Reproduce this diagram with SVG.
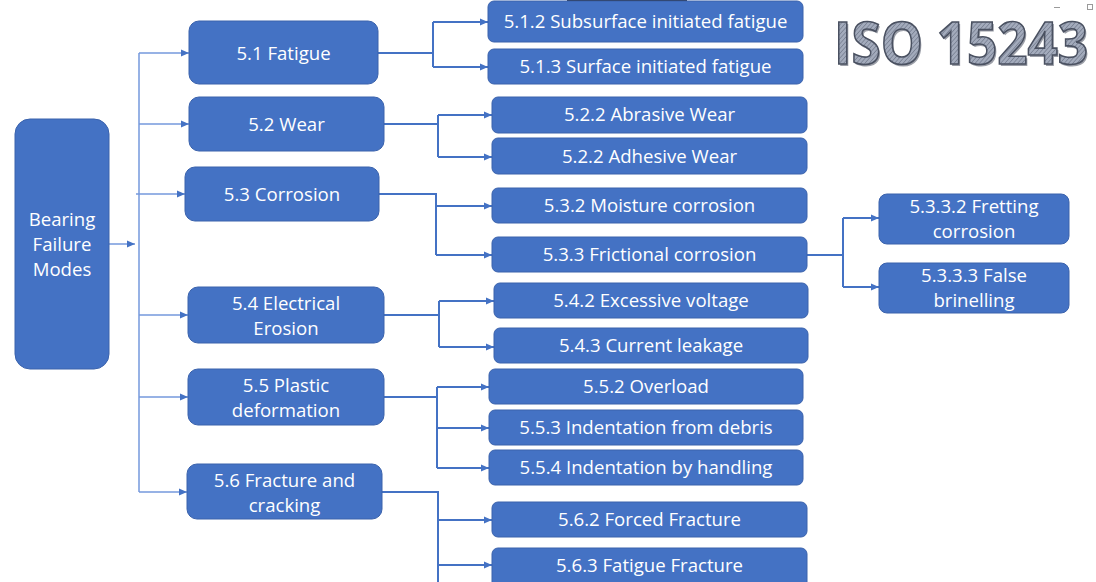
<svg xmlns="http://www.w3.org/2000/svg" width="1096" height="582" viewBox="0 0 1096 582">
<style>
.box{fill:#4472C4;stroke:#3A62AC;stroke-width:1}
.t{font-family:"Open Sans","Noto Sans","Liberation Sans",sans-serif;font-size:18.6px;fill:#ffffff;text-anchor:middle}
.spine{fill:none;stroke:#7499DD;stroke-width:1.5}
.conn{fill:none;stroke:#4472C4;stroke-width:2}
.iso{font-family:"Open Sans","Liberation Sans",sans-serif;font-weight:700;font-size:53px}
</style>
<defs>
<marker id="ah" viewBox="0 0 8 8" refX="8" refY="4" markerWidth="8" markerHeight="8" markerUnits="userSpaceOnUse" orient="auto">
<path d="M0,0.5 L8,4 L0,7.5 Z" fill="#4472C4"/>
</marker>
<pattern id="hatch" width="3" height="3" patternUnits="userSpaceOnUse" patternTransform="rotate(45)">
<rect width="3" height="3" fill="#A3ABBC"/>
<line x1="0" y1="0" x2="0" y2="3" stroke="#6E7689" stroke-width="1.2"/>
</pattern>
</defs>
<rect width="1096" height="582" fill="#ffffff"/>
<rect x="567" y="0" width="120" height="2" fill="#2a2f3a"/>
<line x1="1054" y1="7.5" x2="1060" y2="7.5" stroke="#9a9a9a" stroke-width="1"/>
<rect x="1087.5" y="4.5" width="5" height="5" fill="none" stroke="#9a9a9a" stroke-width="1"/>

<g id="connectors">
<line class="spine" x1="109" y1="244" x2="135" y2="244" marker-end="url(#ah)"/>
<path class="spine" d="M139,492 V53"/>
<line class="spine" x1="139" y1="53" x2="189" y2="53" marker-end="url(#ah)"/>
<line class="spine" x1="139" y1="124" x2="189" y2="124" marker-end="url(#ah)"/>
<line class="spine" x1="136" y1="194" x2="185" y2="194" marker-end="url(#ah)"/>
<line class="spine" x1="139" y1="315" x2="188" y2="315" marker-end="url(#ah)"/>
<line class="spine" x1="139" y1="397" x2="188" y2="397" marker-end="url(#ah)"/>
<line class="spine" x1="139" y1="492" x2="187" y2="492" marker-end="url(#ah)"/>

<path class="conn" d="M378,53 H433"/>
<path class="conn" d="M433,22 V67"/>
<path class="conn" d="M433,22 H488" marker-end="url(#ah)"/>
<path class="conn" d="M433,67 H488" marker-end="url(#ah)"/>

<path class="conn" d="M384,124 H438"/>
<path class="conn" d="M438,115 V157"/>
<path class="conn" d="M438,115 H492" marker-end="url(#ah)"/>
<path class="conn" d="M438,157 H492" marker-end="url(#ah)"/>

<path class="conn" d="M379,194 H436 V255"/>
<path class="conn" d="M436,206 H492" marker-end="url(#ah)"/>
<path class="conn" d="M436,255 H492" marker-end="url(#ah)"/>

<path class="conn" d="M807,255 H843"/>
<path class="conn" d="M843,218 V287"/>
<path class="conn" d="M843,218 H879" marker-end="url(#ah)"/>
<path class="conn" d="M843,287 H879" marker-end="url(#ah)"/>

<path class="conn" d="M384,315 H439"/>
<path class="conn" d="M439,301 V347"/>
<path class="conn" d="M439,301 H494" marker-end="url(#ah)"/>
<path class="conn" d="M439,347 H494" marker-end="url(#ah)"/>

<path class="conn" d="M384,397 H437"/>
<path class="conn" d="M437,387 V468"/>
<path class="conn" d="M437,387 H489" marker-end="url(#ah)"/>
<path class="conn" d="M437,428 H489" marker-end="url(#ah)"/>
<path class="conn" d="M437,468 H489" marker-end="url(#ah)"/>

<path class="conn" d="M382,492 H438 V582"/>
<path class="conn" d="M438,520 H492" marker-end="url(#ah)"/>
<path class="conn" d="M438,565 H492" marker-end="url(#ah)"/>
</g>

<g id="root">
<rect class="box" x="15" y="119" width="94" height="250" rx="15"/>
<text class="t" x="62" y="226">Bearing</text>
<text class="t" x="62" y="251">Failure</text>
<text class="t" x="62" y="276">Modes</text>
</g>

<g id="n51"><rect class="box" x="189" y="21" width="189" height="63" rx="10"/><text class="t" x="283.5" y="60">5.1 Fatigue</text></g>
<g id="n52"><rect class="box" x="189" y="97" width="195" height="54" rx="10"/><text class="t" x="286.5" y="131">5.2 Wear</text></g>
<g id="n53"><rect class="box" x="185" y="167" width="194" height="54" rx="10"/><text class="t" x="282" y="201">5.3 Corrosion</text></g>
<g id="n54"><rect class="box" x="188" y="287" width="196" height="56" rx="10"/><text class="t" x="286" y="310">5.4 Electrical</text><text class="t" x="286" y="335">Erosion</text></g>
<g id="n55"><rect class="box" x="188" y="369" width="196" height="56" rx="10"/><text class="t" x="286" y="392">5.5 Plastic</text><text class="t" x="286" y="417">deformation</text></g>
<g id="n56"><rect class="box" x="187" y="464" width="195" height="55" rx="10"/><text class="t" x="284.5" y="487">5.6 Fracture and</text><text class="t" x="284.5" y="512">cracking</text></g>

<g id="n512"><rect class="box" x="488" y="1" width="315" height="41" rx="6"/><text class="t" x="645.5" y="28">5.1.2 Subsurface initiated fatigue</text></g>
<g id="n513"><rect class="box" x="488" y="49" width="315" height="35" rx="6"/><text class="t" x="645.5" y="73">5.1.3 Surface initiated fatigue</text></g>
<g id="n522a"><rect class="box" x="492" y="97" width="315" height="36" rx="6"/><text class="t" x="649.5" y="121">5.2.2 Abrasive Wear</text></g>
<g id="n522b"><rect class="box" x="492" y="138" width="315" height="36" rx="6"/><text class="t" x="649.5" y="163">5.2.2 Adhesive Wear</text></g>
<g id="n532"><rect class="box" x="492" y="188" width="315" height="35" rx="6"/><text class="t" x="649.5" y="212">5.3.2 Moisture corrosion</text></g>
<g id="n533"><rect class="box" x="492" y="237" width="315" height="35" rx="6"/><text class="t" x="649.5" y="261">5.3.3 Frictional corrosion</text></g>
<g id="n5332"><rect class="box" x="879" y="194" width="190" height="50" rx="8"/><text class="t" x="974" y="213">5.3.3.2 Fretting</text><text class="t" x="974" y="238">corrosion</text></g>
<g id="n5333"><rect class="box" x="879" y="263" width="190" height="50" rx="8"/><text class="t" x="974" y="282">5.3.3.3 False</text><text class="t" x="974" y="307">brinelling</text></g>
<g id="n542"><rect class="box" x="494" y="283" width="314" height="35" rx="6"/><text class="t" x="651" y="307">5.4.2 Excessive voltage</text></g>
<g id="n543"><rect class="box" x="494" y="328" width="314" height="35" rx="6"/><text class="t" x="651" y="352">5.4.3 Current leakage</text></g>
<g id="n552"><rect class="box" x="489" y="369" width="314" height="35" rx="6"/><text class="t" x="646" y="393">5.5.2 Overload</text></g>
<g id="n553"><rect class="box" x="489" y="410" width="314" height="35" rx="6"/><text class="t" x="646" y="434">5.5.3 Indentation from debris</text></g>
<g id="n554"><rect class="box" x="489" y="450" width="314" height="35" rx="6"/><text class="t" x="646" y="474">5.5.4 Indentation by handling</text></g>
<g id="n562"><rect class="box" x="492" y="502" width="315" height="35" rx="6"/><text class="t" x="649.5" y="526">5.6.2 Forced Fracture</text></g>
<g id="n563"><rect class="box" x="492" y="548" width="315" height="40" rx="6"/><text class="t" x="649.5" y="572">5.6.3 Fatigue Fracture</text></g>

<g id="title">
<text class="iso" transform="translate(835.5,65.5) scale(1,1.12)" x="0" y="0" fill="#5b6170" opacity="0.6">ISO 15243</text>
<text class="iso" transform="translate(834,64) scale(1,1.12)" x="0" y="0" fill="url(#hatch)" stroke="#4A5161" stroke-width="1.5">ISO 15243</text>
</g>
</svg>
